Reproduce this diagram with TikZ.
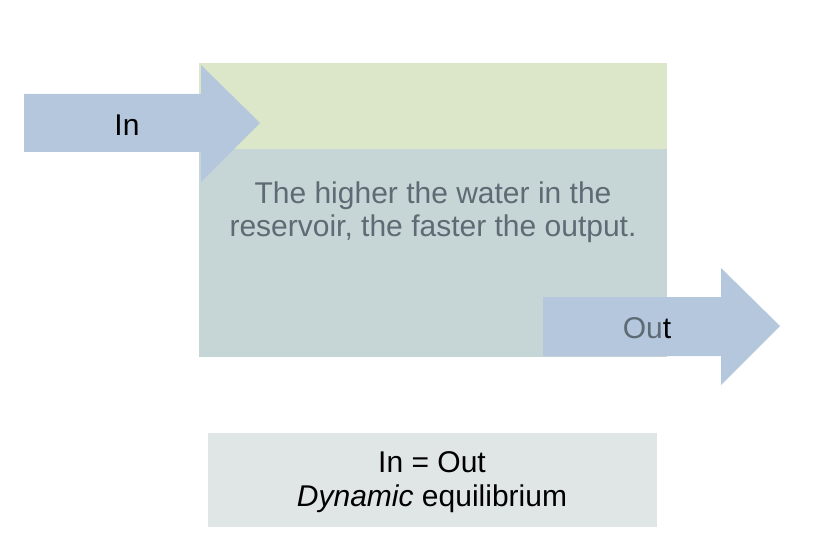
\documentclass[tikz,border=0pt]{standalone}
\usepackage{fontspec}
\setmainfont{Liberation Sans}
\usepackage{tikz}

\definecolor{topwater}{HTML}{DCE6C8}
\definecolor{lowwater}{HTML}{C6D5D6}
\definecolor{flow}{HTML}{B4C7DD}
\definecolor{dimtext}{HTML}{5F6B74}
\definecolor{notebox}{HTML}{DFE6E5}

\tikzset{
    flowarrow/.style={fill=flow, draw=none},
    label/.style={font=\fontsize{30}{33.5}\selectfont, align=center, inner sep=0pt}
}

\begin{document}
\begin{tikzpicture}[x=1pt, y=-1pt]
            \useasboundingbox (0, 0) rectangle (816, 556);
            % reservoir
            \fill[topwater] (199, 63) rectangle (667, 149);
            \fill[lowwater] (199, 149) rectangle (667, 357);

            % inflow
            \fill[flowarrow] (24, 94) -- (201, 94) -- (201, 65) -- (260, 123)
                -- (201, 182) -- (201, 152) -- (24, 152) -- cycle;
            \node[label] (in) at (127, 125) {In};

            \node[label, text=dimtext] (level) at (433, 212)
                {The higher the water in the\\reservoir, the faster the output.};

            % outflow
            \fill[flowarrow] (543, 297) -- (721, 297) -- (721, 268) -- (780, 326)
                -- (721, 385) -- (721, 356) -- (543, 356) -- cycle;
            \node[label] (out) at (647, 328) {\textcolor{dimtext}{Ou}t};

            % balance
            \fill[notebox] (208, 433) rectangle (657, 527);
            \node[label] (balance) at (432, 482) {In = Out\\\textit{Dynamic} equilibrium};
\end{tikzpicture}
\end{document}
